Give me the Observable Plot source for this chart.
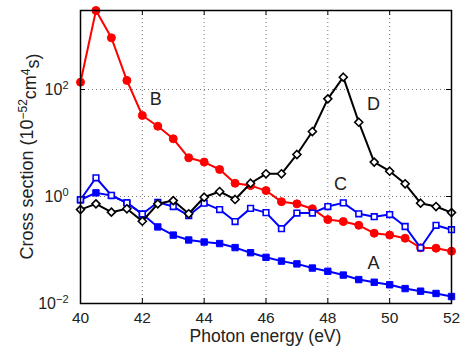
<!DOCTYPE html>
<html>
<head>
<meta charset="utf-8">
<script src="https://cdn.jsdelivr.net/npm/d3@7"></script>
<script src="https://cdn.jsdelivr.net/npm/@observablehq/plot@0.6"></script>
<style>
  html, body { margin: 0; padding: 0; background: white; }
</style>
</head>
<body>
<div id="chart"></div>
<script>
const energy = [40, 40.5, 41, 41.5, 42, 42.5, 43, 43.5, 44, 44.5, 45, 45.5, 46, 46.5, 47, 47.5, 48, 48.5, 49, 49.5, 50, 50.5, 51, 51.5, 52];
const seriesA = [0.87, 1.17, 1.04, 0.76, 0.47, 0.27, 0.19, 0.154, 0.141, 0.132, 0.111, 0.089, 0.073, 0.062, 0.055, 0.046, 0.040, 0.034, 0.028, 0.025, 0.0224, 0.019, 0.017, 0.0154, 0.0135];
const seriesB = [137, 3000, 925, 148, 32.7, 20.6, 12, 5.3, 4.4, 3.2, 1.77, 1.6, 1.29, 0.80, 0.73, 0.59, 0.37, 0.34, 0.29, 0.206, 0.19, 0.166, 0.11, 0.108, 0.095];
const seriesC = [0.87, 2.24, 1.05, 0.76, 0.47, 0.78, 0.65, 0.44, 0.75, 0.57, 0.34, 0.60, 0.50, 0.25, 0.49, 0.49, 0.65, 0.76, 0.475, 0.42, 0.46, 0.275, 0.11, 0.29, 0.24];
const seriesD = [0.57, 0.73, 0.51, 0.59, 0.345, 0.73, 0.84, 0.475, 0.97, 1.24, 0.88, 1.77, 2.66, 2.66, 6.1, 16.4, 67, 170, 24.5, 4.4, 2.97, 1.73, 0.75, 0.65, 0.50];

const curveNames = ["A", "B", "C", "D"];
const curveLabelX = [49.48, 42.43, 48.41, 49.48];
const curveLabelY = [0.056, 65, 1.68, 52];

const xTicks = [40, 42, 44, 46, 48, 50, 52];
const yTicks = [0.01, 1, 100];
const xLabel = "Photon energy (eV)";

const rows = (vals) => energy.map((e, i) => ({x: e, y: vals[i]}));
const A = rows(seriesA), B = rows(seriesB), C = rows(seriesC), D = rows(seriesD);
const labels = curveNames.map((t, i) => ({t, x: curveLabelX[i], y: curveLabelY[i]}));

const W = 468, H = 349, mL = 80, mR = 17, mT = 10, mB = 46;
const fw = W - mL - mR, fh = H - mT - mB;
const gridStyle = {stroke: "#777", strokeOpacity: 1, strokeWidth: 1, strokeDasharray: "1,3"};

const svg = Plot.plot({
  width: W, height: H,
  marginLeft: mL, marginRight: mR, marginTop: mT, marginBottom: mB,
  style: {fontFamily: "'Liberation Sans', Arial, sans-serif", fontSize: "15px", color: "#222", background: "white", overflow: "visible"},
  x: {domain: [40, 52]},
  y: {type: "log", domain: [0.01, 3000]},
  marks: [
    Plot.gridX(xTicks, gridStyle),
    Plot.gridY(yTicks, gridStyle),
    Plot.tickX(xTicks, {x: d => d, insetTop: fh - 5, stroke: "black"}),
    Plot.tickX(xTicks, {x: d => d, insetBottom: fh - 5, stroke: "black"}),
    Plot.tickY(yTicks, {y: d => d, insetRight: fw - 5, stroke: "black"}),
    Plot.tickY(yTicks, {y: d => d, insetLeft: fw - 5, stroke: "black"}),
    Plot.axisX(xTicks, {tickSize: 0, tickPadding: 8, label: null, fontSize: 15.5}),
    Plot.axisY(yTicks, {tickSize: 0, tickPadding: 12, label: null, fontSize: 16,
      tickFormat: d => "10^" + Math.round(Math.log10(d))}),
    Plot.line(B, {x: "x", y: "y", stroke: "#ff0000", strokeWidth: 2}),
    Plot.dot(B, {x: "x", y: "y", r: 4, fill: "#ff0000", stroke: "#ff0000", strokeWidth: 1}),
    Plot.line(A, {x: "x", y: "y", stroke: "#0000ff", strokeWidth: 2}),
    Plot.dot(A, {x: "x", y: "y", symbol: "square", r: 3.6, fill: "#0000ff", stroke: "#0000ff", strokeWidth: 1}),
    Plot.line(C, {x: "x", y: "y", stroke: "#0000ff", strokeWidth: 2}),
    Plot.dot(C, {x: "x", y: "y", symbol: "square", r: 3.2, fill: "white", stroke: "#0000ff", strokeWidth: 1.6}),
    Plot.line(D, {x: "x", y: "y", stroke: "black", strokeWidth: 2}),
    Plot.dot(D, {x: "x", y: "y", symbol: "diamond2", r: 3.6, fill: "white", stroke: "black", strokeWidth: 1.6}),
    Plot.text(labels, {x: "x", y: "y", text: "t", fontSize: 18, fill: "#222"}),
    Plot.frame({stroke: "black", strokeWidth: 1.5})
  ]
});

// superscript exponents on y tick labels
d3.select(svg).selectAll("text").each(function () {
  const s = this.textContent;
  if (/^10\^/.test(s)) {
    const exp = s.split("^")[1].replace("-", "\u2212");
    const t = d3.select(this);
    t.text("10");
    t.append("tspan").attr("dy", "-0.55em").attr("font-size", "11px").text(exp);
  }
});

const font = "'Liberation Sans', Arial, sans-serif";
// x axis label
d3.select(svg).append("text")
  .attr("x", mL + fw / 2).attr("y", 341.5)
  .attr("text-anchor", "middle").attr("font-family", font).attr("font-size", 17.5).attr("fill", "#222")
  .text(xLabel);
// y axis label with superscripts
const yl = d3.select(svg).append("text")
  .attr("transform", `translate(33,${mT + fh / 2}) rotate(-90)`)
  .attr("text-anchor", "middle").attr("font-family", font).attr("font-size", 18).attr("fill", "#222");
yl.append("tspan").text("Cross section (10");
yl.append("tspan").attr("dy", "-0.5em").attr("font-size", 12).text("\u221252");
yl.append("tspan").attr("dy", "0.5em").text("cm");
yl.append("tspan").attr("dy", "-0.5em").attr("font-size", 12).text("4");
yl.append("tspan").attr("dy", "0.5em").text("s)");

document.getElementById("chart").appendChild(svg);
</script>
</body>
</html>
